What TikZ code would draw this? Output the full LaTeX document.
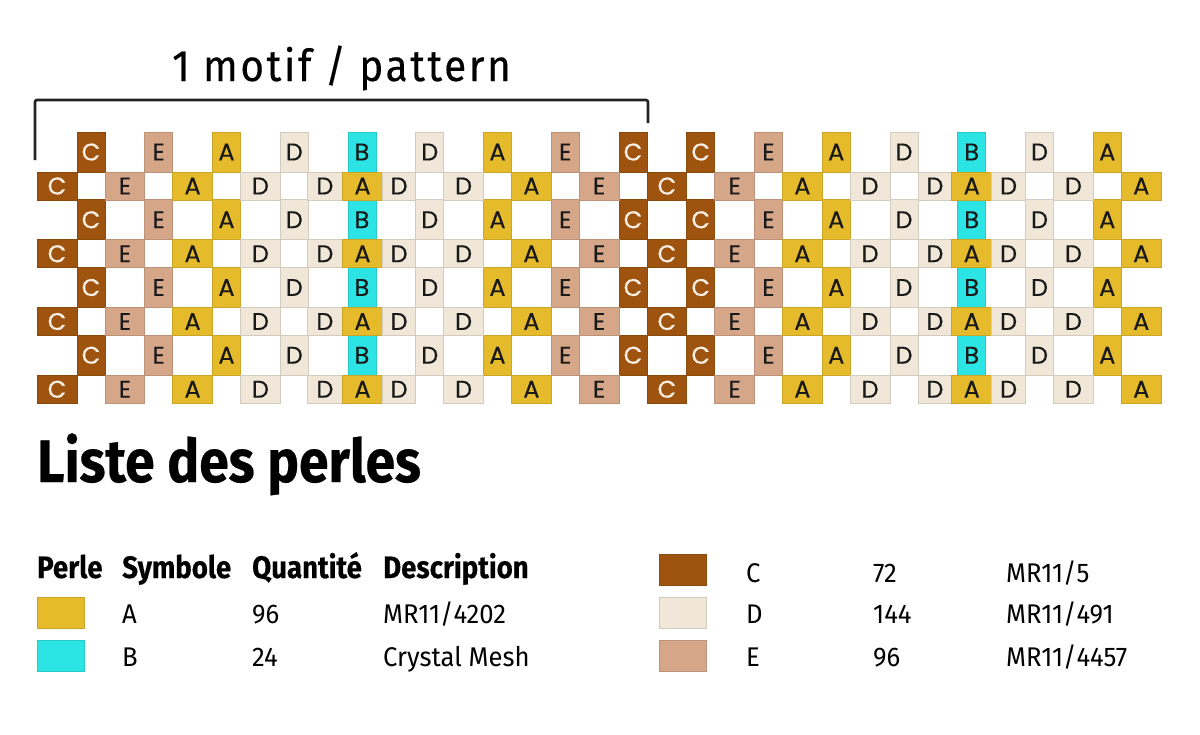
\documentclass[tikz,border=0pt]{standalone}
\usepackage{fontspec}
\setmainfont{Fira Sans}
\newfontfamily\beadfont{Poppins}[FakeBold=0.4]
\newfontfamily\titlefont{Fira Sans}[FakeStretch=0.92, LetterSpace=6, FakeBold=0.3]
\newfontfamily\headfont{Fira Sans}[FakeStretch=0.89, BoldFeatures={FakeBold=0.4}]
\newfontfamily\listfont{Fira Sans}[FakeStretch=0.95]
\usetikzlibrary{positioning}

\definecolor{colA}{RGB}{229,187,44}
\definecolor{colB}{RGB}{44,228,228}
\definecolor{colC}{RGB}{158,84,15}
\definecolor{colD}{RGB}{241,231,217}
\definecolor{colE}{RGB}{214,166,137}
\definecolor{txtA}{RGB}{25,25,25}
\definecolor{txtB}{RGB}{25,25,25}
\definecolor{txtC}{RGB}{250,240,230}
\definecolor{txtD}{RGB}{25,25,25}
\definecolor{txtE}{RGB}{25,25,25}
\definecolor{ink}{RGB}{34,34,34}

\tikzstyle{bead} = [rectangle, inner sep=0pt, line width=0.8pt, font=\beadfont\fontsize{24}{24}\selectfont]
\tikzstyle{tall} = [minimum width=28pt, minimum height=40pt]
\tikzstyle{swatch} = [rectangle, inner sep=0pt, minimum width=47pt, minimum height=31pt, line width=0.8pt]
\tikzstyle{colhead} = [anchor=base west, inner sep=0pt, font=\headfont\bfseries\fontsize{31}{31}\selectfont]
\tikzstyle{entry} = [anchor=base west, inner sep=0pt, font=\listfont\fontsize{27}{27}\selectfont]

\begin{document}
\begin{tikzpicture}[x=1pt, y=-1pt]
\useasboundingbox [fill=white] (0,0) rectangle (1200,734);

% motif bracket
\node (title) [anchor=base west, inner sep=0pt, font=\titlefont\fontsize{44}{44}\selectfont] at (172,81) {1 motif / pattern};
\draw [ink, line width=2.6pt, rounded corners=2pt] (35,160) -- (35,100) -- (648,100) -- (648,123);

% vertical beads
\foreach \l [count=\k from 0] in {C,E,A,D,B,D,A,E,C,C,E,A,D,B,D,A} {
  \foreach \r in {0,...,3} {
    \node (t-\r-\k) [bead, tall, fill=col\l, draw=col\l!88!black, text=txt\l] at ({91+67.75*\k},{152+67.75*\r}) {\l};
  }
}

% horizontal beads
\foreach \r in {0,...,3} {
  \foreach \x/\w/\l [count=\k] in {57/40/C, 124.9/39.75/E, 192.6/39.75/A, 260.4/39.75/D,
      324.9/35.25/D, 362.5/40/A, 399.1/33.25/D, 463.6/39.75/D, 531.4/39.75/A,
      599.1/39.75/E, 666.9/39.75/C, 734.6/39.75/E, 802.4/39.75/A, 870.1/39.75/D,
      934.9/33.75/D, 971.75/40/A, 1008.6/33.75/D, 1073.4/39.75/D, 1141.25/40/A} {
    \node (w-\r-\k) [bead, minimum width=\w pt, minimum height=28pt, fill=col\l, draw=col\l!88!black, text=txt\l] at ({\x},{186+67.75*\r}) {\l};
  }
}

% bead list
\node (list) [anchor=base west, inner sep=0pt, font=\headfont\bfseries\fontsize{60}{60}\selectfont] at (37,482) {Liste des perles};

\node (h-perle) [colhead] at (37,578) {Perle};
\node (h-symb) [colhead] at (122,578) {Symbole};
\node (h-qte) [colhead] at (252,578) {Quantité};
\node (h-desc) [colhead] at (383,578) {Description};

\node (s-A) [swatch, fill=colA, draw=colA!88!black] at (60.5,612.5) {};
\node (s-B) [swatch, fill=colB, draw=colB!88!black] at (60.5,656) {};
\node (s-C) [swatch, fill=colC, draw=colC!88!black] at (682.5,569.5) {};
\node (s-D) [swatch, fill=colD, draw=colD!88!black] at (682.5,612.5) {};
\node (s-E) [swatch, fill=colE, draw=colE!88!black] at (682.5,656) {};

\foreach \n/\y/\sym/\qte/\desc in {A/623/A/96/MR11\slash 4202, B/666/B/24/Crystal Mesh} {
  \node (sym-\n) [entry] at (122,\y) {\sym};
  \node (qte-\n) [entry] at (252,\y) {\qte};
  \node (desc-\n) [entry] at (383,\y) {\desc};
}
\foreach \n/\y/\sym/\qte/\desc in {C/582/C/72/MR11\slash 5, D/623/D/144/MR11\slash 491, E/666/E/96/MR11\slash 4457} {
  \node (sym-\n) [entry] at (746,\y) {\sym};
  \node (qte-\n) [entry] at (873,\y) {\qte};
  \node (desc-\n) [entry] at (1006,\y) {\desc};
}

\end{tikzpicture}
\end{document}
